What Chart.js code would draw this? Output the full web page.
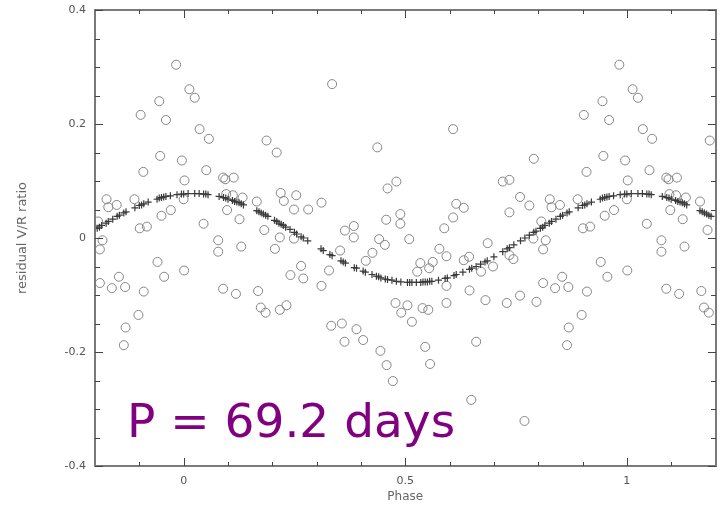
<!DOCTYPE html>
<html><head><meta charset="utf-8">
<script src="https://cdn.jsdelivr.net/npm/chart.js@4/dist/chart.umd.min.js"></script>
<style>html,body{margin:0;padding:0;background:#fff;}#wrap{width:721px;height:509px;position:relative;}</style>
</head><body><div id="wrap"><canvas id="c" width="721" height="509"></canvas></div>
<script>
// observed residual V/R ratios, one period (phase 0..1)
const obsPhase = [0.013,0.025,0.335,0.983,0.945,0.903,0.960,0.036,0.057,0.996,0.051,0.089,0.113,0.094,0.002,0.000,0.111,0.096,0.133,0.165,0.098,0.126,0.045,0.078,0.078,0.130,0.001,0.089,0.118,0.168,0.187,0.210,0.437,0.460,0.480,0.219,0.254,0.226,0.249,0.281,0.311,0.457,0.489,0.489,0.182,0.217,0.249,0.206,0.364,0.384,0.384,0.441,0.454,0.509,0.353,0.426,0.411,0.265,0.241,0.270,0.328,0.311,0.174,0.185,0.217,0.232,0.478,0.491,0.505,0.515,0.333,0.357,0.390,0.363,0.405,0.444,0.458,0.472,0.556,0.608,0.790,0.720,0.735,0.615,0.632,0.608,0.588,0.759,0.780,0.826,0.830,0.849,0.735,0.807,0.817,0.811,0.789,0.686,0.577,0.593,0.735,0.744,0.632,0.644,0.534,0.562,0.554,0.527,0.671,0.698,0.593,0.645,0.681,0.729,0.759,0.796,0.811,0.838,0.854,0.593,0.539,0.552,0.660,0.545,0.889,0.971,0.950,0.901,0.917,0.941,0.956,0.868,0.910,0.898,0.869,0.865,0.947,0.909,0.649,0.769];
const obsResidual = [0.261,0.246,0.270,0.304,0.240,0.216,0.207,0.191,0.174,0.136,0.119,0.106,0.106,0.103,0.101,0.068,0.075,0.077,0.071,0.064,0.049,0.033,0.025,-0.004,-0.024,-0.015,-0.057,-0.089,-0.098,-0.093,0.171,0.150,0.159,0.087,0.099,0.079,0.075,0.065,0.050,0.050,0.062,0.032,0.042,0.025,0.014,0.001,-0.001,-0.019,0.013,0.021,0.001,-0.002,-0.012,-0.002,-0.022,-0.026,-0.040,-0.049,-0.065,-0.071,-0.057,-0.084,-0.122,-0.131,-0.126,-0.118,-0.114,-0.131,-0.118,-0.147,-0.154,-0.150,-0.160,-0.182,-0.179,-0.198,-0.223,-0.251,-0.221,0.191,0.139,0.099,0.102,0.060,0.053,0.036,0.017,0.072,0.057,0.068,0.054,0.058,0.045,0.029,-0.004,-0.020,-0.001,-0.009,-0.019,-0.032,-0.030,-0.037,-0.039,-0.033,-0.044,-0.042,-0.053,-0.059,-0.059,-0.050,-0.084,-0.092,-0.109,-0.114,-0.101,-0.112,-0.079,-0.088,-0.068,-0.114,-0.123,-0.126,-0.182,-0.191,0.068,0.049,0.039,0.017,0.020,-0.042,-0.068,-0.086,-0.094,-0.135,-0.157,-0.188,0.144,0.116,-0.284,-0.321];
// fitted curve values read at the plotted phases (one period)
const fitPhase = [0.00,0.01,0.025,0.035,0.045,0.05,0.055,0.08,0.09,0.095,0.10,0.11,0.115,0.12,0.125,0.13,0.135,0.165,0.17,0.175,0.18,0.185,0.19,0.205,0.21,0.215,0.22,0.225,0.23,0.24,0.25,0.255,0.265,0.27,0.28,0.31,0.315,0.33,0.335,0.355,0.36,0.365,0.385,0.39,0.405,0.41,0.425,0.435,0.44,0.445,0.455,0.46,0.47,0.48,0.49,0.505,0.51,0.515,0.525,0.535,0.54,0.545,0.55,0.555,0.56,0.575,0.59,0.595,0.61,0.615,0.63,0.645,0.65,0.66,0.67,0.68,0.685,0.70,0.72,0.73,0.735,0.745,0.76,0.77,0.78,0.79,0.795,0.805,0.81,0.815,0.825,0.83,0.84,0.85,0.855,0.865,0.87,0.89,0.90,0.905,0.91,0.92,0.94,0.945,0.95,0.955,0.96,0.97,0.985,0.995];
const fitResidual = [0.077,0.078,0.078,0.078,0.077,0.077,0.076,0.073,0.071,0.070,0.068,0.066,0.064,0.063,0.062,0.060,0.058,0.048,0.046,0.044,0.042,0.040,0.038,0.031,0.029,0.026,0.024,0.022,0.019,0.015,0.010,0.007,0.002,0.000,-0.005,-0.019,-0.022,-0.029,-0.031,-0.040,-0.042,-0.044,-0.052,-0.053,-0.058,-0.060,-0.064,-0.067,-0.068,-0.070,-0.072,-0.073,-0.074,-0.076,-0.077,-0.078,-0.078,-0.078,-0.078,-0.078,-0.077,-0.077,-0.077,-0.076,-0.076,-0.074,-0.071,-0.070,-0.066,-0.064,-0.060,-0.055,-0.053,-0.050,-0.046,-0.042,-0.040,-0.033,-0.024,-0.019,-0.017,-0.012,-0.005,0.000,0.005,0.010,0.012,0.017,0.019,0.022,0.026,0.029,0.033,0.038,0.040,0.044,0.046,0.053,0.057,0.058,0.060,0.063,0.068,0.070,0.071,0.072,0.073,0.074,0.076,0.077];

const xTickValues = [0, 0.5, 1];
const xTickLabels = ['0', '0.5', '1'];
const xMinorTicks = [-0.1, 0.1, 0.2, 0.3, 0.4, 0.6, 0.7, 0.8, 0.9, 1.1];
const yTickValues = [-0.4, -0.2, 0, 0.2, 0.4];
const yTickLabels = ['-0.4', '-0.2', '0', '0.2', '0.4'];
const yMinorTicks = [-0.35, -0.3, -0.25, -0.15, -0.1, -0.05, 0.05, 0.1, 0.15, 0.25, 0.3, 0.35];
const xTitle = 'Phase';
const yTitle = 'residual V/R ratio';
const periodLabel = 'P = 69.2 days';
const phaseMin = -0.2, phaseMax = 1.2, resMin = -0.4, resMax = 0.4;

// phase-folded display: each observation also shown one cycle earlier/later inside the window
function folded(ph, vals) {
  const pts = [];
  ph.forEach((p, i) => {
    pts.push({x: p, y: vals[i]});
    if (p + 1 <= phaseMax) pts.push({x: p + 1, y: vals[i]});
    if (p - 1 >= phaseMin) pts.push({x: p - 1, y: vals[i]});
  });
  return pts;
}

const tickFont = { family: 'DejaVu Sans', size: 11 };
const FRAME = '#7a7a7a', TICK = '#444444';

const frame = {
  id: 'frame',
  afterDraw(chart) {
    const ctx = chart.ctx;
    const xs = chart.scales.x, ys = chart.scales.y;
    const L = Math.round(xs.getPixelForValue(phaseMin));
    const R = Math.round(xs.getPixelForValue(phaseMax));
    const T = Math.round(ys.getPixelForValue(resMax));
    const B = Math.round(ys.getPixelForValue(resMin));
    ctx.save();
    ctx.fillStyle = FRAME;
    ctx.fillRect(L - 1, T - 1, R - L + 2, 2);
    ctx.fillRect(L - 1, B - 1, R - L + 2, 2);
    ctx.fillRect(L - 1, T - 1, 2, B - T + 2);
    ctx.fillRect(R - 1, T - 1, 2, B - T + 2);
    ctx.fillStyle = TICK;
    const xt = (v, len) => { const px = Math.round(xs.getPixelForValue(v));
      ctx.fillRect(px, B - len, 1, len); ctx.fillRect(px, T, 1, len); };
    const yt = (v, len) => { const py = Math.round(ys.getPixelForValue(v));
      ctx.fillRect(L, py, len, 1); ctx.fillRect(R - len, py, len, 1); };
    xTickValues.forEach(v => xt(v, 8));
    xMinorTicks.forEach(v => xt(v, 4));
    yTickValues.forEach(v => yt(v, 8));
    yMinorTicks.forEach(v => yt(v, 5));
    ctx.fillStyle = '#800080';
    ctx.font = '47px "DejaVu Sans"';
    ctx.textBaseline = 'alphabetic';
    ctx.textAlign = 'left';
    ctx.fillText(periodLabel, 127, 437);
    ctx.restore();
  }
};

new Chart(document.getElementById('c'), {
  type: 'scatter',
  data: {
    datasets: [
      { label: 'fit', data: folded(fitPhase, fitResidual), pointStyle: 'cross', pointRadius: 3.5,
        borderColor: '#3a3a3a', borderWidth: 1.2, backgroundColor: '#3a3a3a', order: 0 },
      { label: 'obs', data: folded(obsPhase, obsResidual), pointStyle: 'circle', pointRadius: 4.5,
        borderColor: '#858585', borderWidth: 1, backgroundColor: 'rgba(0,0,0,0)', order: 1 }
    ]
  },
  options: {
    responsive: false, animation: false, events: [],
    layout: { padding: { top: 10, right: 3, left: 0, bottom: 0 } },
    plugins: { legend: { display: false }, tooltip: { enabled: false } },
    scales: {
      x: {
        type: 'linear', min: phaseMin, max: phaseMax,
        afterBuildTicks: s => { s.ticks = xTickValues.map(v => ({value: v})); },
        afterFit: s => { s.height = 43; },
        grid: { display: false, drawTicks: false }, border: { display: true, color: FRAME, width: 2 },
        ticks: { padding: 9, color: '#555', font: tickFont,
          maxRotation: 0, callback: (v, i) => xTickLabels[i] },
        title: { display: true, text: xTitle, color: '#666', font: { family: 'DejaVu Sans', size: 12 },
          padding: { top: 0, bottom: 5 } }
      },
      y: {
        type: 'linear', min: resMin, max: resMax,
        afterBuildTicks: s => { s.ticks = yTickValues.map(v => ({value: v})); },
        afterFit: s => { s.width = 95; s.paddingTop = 0; s.paddingBottom = 0; },
        grid: { display: false, drawTicks: false }, border: { display: true, color: FRAME, width: 2 },
        ticks: { padding: 9, color: '#555', font: tickFont,
          callback: (v, i) => yTickLabels[i] },
        title: { display: true, text: yTitle, color: '#666', font: { family: 'DejaVu Sans', size: 13 },
          padding: { top: 15, bottom: 0 } }
      }
    }
  },
  plugins: [frame]
});
</script></body></html>
